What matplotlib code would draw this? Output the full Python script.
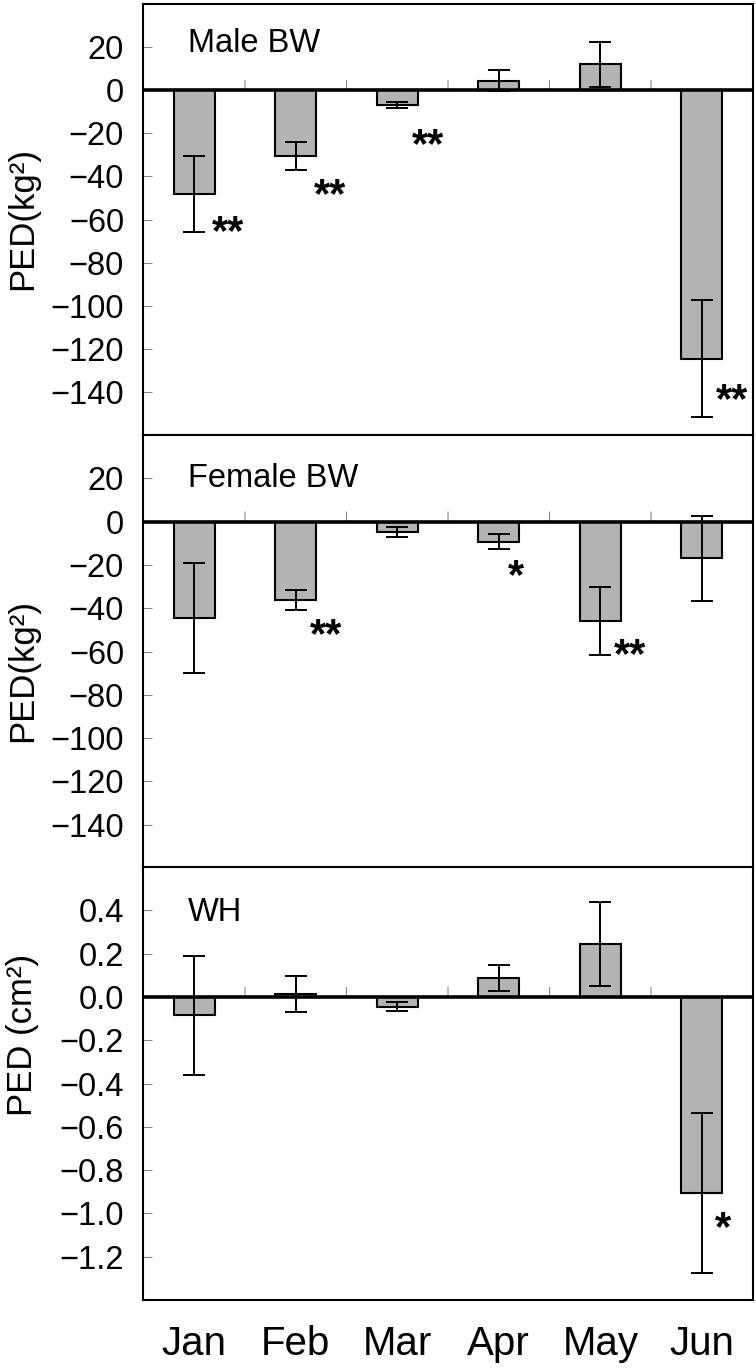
import matplotlib
matplotlib.use("Agg")
import matplotlib.pyplot as plt

plt.rcParams['font.family'] = ['Liberation Sans', 'DejaVu Sans']

months = ["Jan", "Feb", "Mar", "Apr", "May", "Jun"]

male_bw = [-48.0, -30.5, -7.0, 4.5, 12.0, -124.5]
male_bw_err = [17.6, 6.3, 1.4, 5.0, 10.5, 27.0]
male_stars = ["**", "**", "**", "", "", "**"]

female_bw = [-44.5, -36.0, -4.8, -9.2, -46.0, -17.0]
female_bw_err = [25.3, 4.6, 2.4, 3.6, 15.8, 19.8]
female_stars = ["", "**", "", "*", "**", ""]

wh = [-0.085, 0.012, -0.045, 0.087, 0.245, -0.905]
wh_err = [0.275, 0.083, 0.022, 0.06, 0.195, 0.37]
wh_stars = ["", "", "", "", "", "*"]

titles = ["Male BW", "Female BW", "WH"]
ylabels = ["PED(kg\u00b2)", "PED(kg\u00b2)", "PED (cm\u00b2)"]

# annotation placement (x offset from category, y value of star centre)
male_star_pos = [(0.33, -60), (1.34, -43), (2.30, -20), None, None, (5.30, -138)]
female_star_pos = [None, (1.30, -47), None, (3.165, -19.5), (4.29, -56), None]
wh_star_pos = [None, None, None, None, None, (5.21, -1.01)]

fig = plt.figure(figsize=(7.56, 13.68), dpi=100)
left, width = 0.1898, 0.8056
rects = [
    (left, 0.682, width, 0.315),
    (left, 0.3655, width, 0.3165),
    (left, 0.0497, width, 0.3165),
]
panels = [
    (male_bw, male_bw_err, male_star_pos, male_stars, (-160, 40), list(range(-140, 21, 20)), None),
    (female_bw, female_bw_err, female_star_pos, female_stars, (-160, 40), list(range(-140, 21, 20)), None),
    (wh, wh_err, wh_star_pos, wh_stars, (-1.4, 0.6), [-1.2, -1.0, -0.8, -0.6, -0.4, -0.2, 0.0, 0.2, 0.4], "%.1f"),
]
label_y = [0.503, 0.455, 0.612]
title_y = [0.909, 0.90, 0.894]

x = list(range(len(months)))
for i, (rect, (vals, errs, spos, stars, ylim, yticks, fmt)) in enumerate(zip(rects, panels)):
    ax = fig.add_axes(rect)
    ax.bar(x, vals, width=0.4, color="#b3b3b3", edgecolor="black", linewidth=1.5, zorder=2)
    ax.errorbar(x, vals, yerr=errs, fmt="none", ecolor="black", elinewidth=1.4,
                capsize=8, capthick=1.4, zorder=3)
    ax.axhline(0, color="black", linewidth=2.6, zorder=4)
    ax.set_xlim(-0.5, 5.5)
    ax.set_ylim(*ylim)
    ax.set_yticks(yticks)
    if fmt:
        ax.set_yticklabels([("%.1f" % v).replace("-", "\u2212") for v in yticks])
    ax.tick_params(axis="y", direction="in", length=6.5, width=0.8, color="#888888",
                   labelsize=23.5, pad=14)
    ax.tick_params(axis="x", length=0)
    for s in ax.spines.values():
        s.set_linewidth(1.5)
        s.set_color("black")
    # category boundary ticks at zero line
    for b in [0.5, 1.5, 2.5, 3.5, 4.5]:
        ax.annotate("", xy=(b, 0), xytext=(0, 7), textcoords="offset points",
                    arrowprops=dict(arrowstyle="-", color="#888888", lw=0.8,
                                    shrinkA=0, shrinkB=0), zorder=1)
    for p, s in zip(spos, stars):
        if p is None or not s:
            continue
        ax.annotate(s, xy=p, xytext=(0, -0.58 * 30), textcoords="offset points",
                    ha="center", va="baseline", fontsize=30, fontweight="bold", zorder=5)
    ax.text(0.0726, title_y[i], titles[i], transform=ax.transAxes, fontsize=23.5,
            ha="left", va="center")
    ax.set_ylabel(ylabels[i], fontsize=25)
    ax.yaxis.set_label_coords(-0.172, label_y[i])
    if i < 2:
        ax.set_xticks(x)
        ax.set_xticklabels([])
    else:
        ax.set_xticks(x)
        ax.set_xticklabels(months, fontsize=29)
        ax.tick_params(axis="x", pad=18)

fig.savefig("out.png", dpi=100)
